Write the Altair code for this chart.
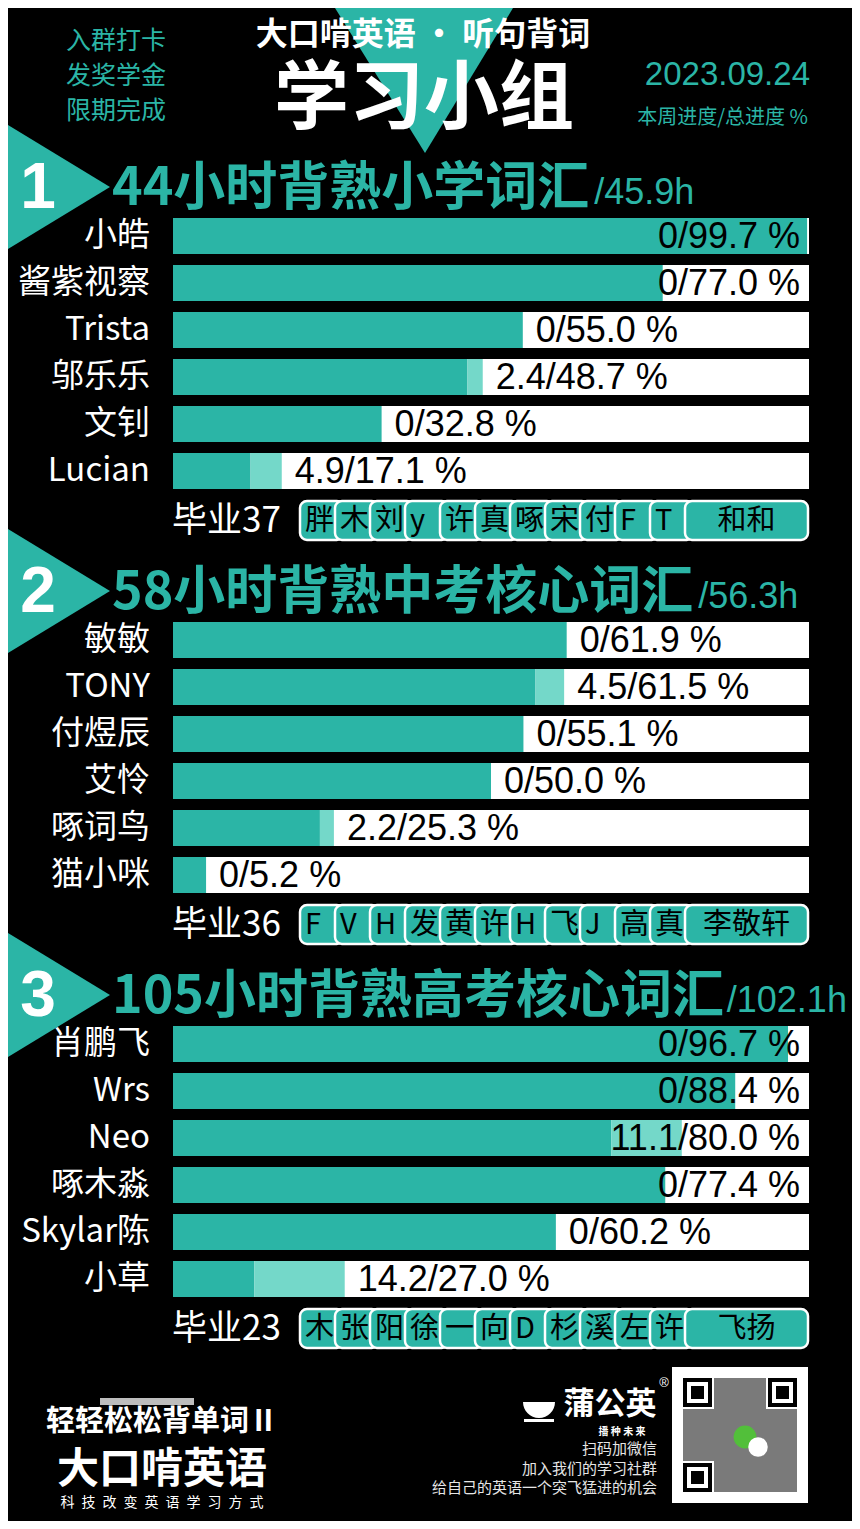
import altair as alt
import pandas as pd

# ---------------- data ----------------
left_notes = ["入群打卡", "发奖学金", "限期完成"]
brand_line = "大口啃英语 · 听句背词"
main_title = "学习小组"
date_text = "2023.09.24"
legend_text = "本周进度/总进度 %"

group_numbers = ["1", "2", "3"]
group_titles = ["44小时背熟小学词汇", "58小时背熟中考核心词汇", "105小时背熟高考核心词汇"]
group_hours = ["/45.9h", "/56.3h", "/102.1h"]

group_names = [
    ["小皓", "酱紫视察", "Trista", "邬乐乐", "文钊", "Lucian"],
    ["敏敏", "TONY", "付煜辰", "艾怜", "啄词鸟", "猫小咪"],
    ["肖鹏飞", "Wrs", "Neo", "啄木淼", "Skylar陈", "小草"],
]
weekly = [
    [0, 0, 0, 2.4, 0, 4.9],
    [0, 4.5, 0, 0, 2.2, 0],
    [0, 0, 11.1, 0, 0, 14.2],
]
total = [
    [99.7, 77.0, 55.0, 48.7, 32.8, 17.1],
    [61.9, 61.5, 55.1, 50.0, 25.3, 5.2],
    [96.7, 88.4, 80.0, 77.4, 60.2, 27.0],
]
graduated = [37, 36, 23]
grad_tiles = [
    ["胖", "木", "刘", "y", "许", "真", "啄", "宋", "付", "F", "T", "和和"],
    ["F", "V", "H", "发", "黄", "许", "H", "飞", "J", "高", "真", "李敬轩"],
    ["木", "张", "阳", "徐", "一", "向", "D", "杉", "溪", "左", "许", "飞扬"],
]

footer_slogan = "轻轻松松背单词Ⅱ"
footer_brand = "大口啃英语"
footer_motto = "科技改变英语学习方式"
footer_logo = "蒲公英"
footer_logo_sub = "播 种 未 来"
footer_lines = ["扫码加微信", "加入我们的学习社群", "给自己的英语一个突飞猛进的机会"]

# ---------------- style ----------------
W = 844
TEAL = "#2bb5a6"
LIGHT = "#74d8c9"
CJK = "Noto Sans CJK SC"
LAT = "Liberation Sans"

one = pd.DataFrame({"k": [0]})


def txt(s, x, y, size, color="white", font=CJK, weight="normal", align="center",
        baseline="middle"):
    return alt.Chart(one).mark_text(
        text=s, fontSize=size, font=font, fontWeight=weight, color=color,
        align=align, baseline=baseline,
    ).encode(x=alt.value(x), y=alt.value(y))


def shape(path, x, y, color, size=4):
    return alt.Chart(one).mark_point(
        shape=path, size=size, filled=True, color=color, opacity=1, strokeWidth=0
    ).encode(x=alt.value(x), y=alt.value(y))


def box(x, x2, y, y2, color, radius=0):
    return alt.Chart(one).mark_rect(color=color, cornerRadius=radius).encode(
        x=alt.value(x), x2=alt.value(x2), y=alt.value(y), y2=alt.value(y2)
    )


# ---------------- title panel ----------------
title_layers = [
    shape("M -90 0 L 88 0 L 0 145 Z", 417, 0, TEAL),
    txt(brand_line, 415, 27, 32, weight="bold"),
    txt(main_title, 416, 92, 75, weight="bold"),
    txt(date_text, 802, 67, 33, color=TEAL, font=LAT, align="right"),
    txt(legend_text, 800, 110, 20, color=TEAL, align="right"),
]
for i, s in enumerate(left_notes):
    title_layers.append(txt(s, 108, 33 + 35 * i, 25, color=TEAL))
title_panel = alt.layer(*title_layers).properties(width=W, height=120)


# ---------------- group panels ----------------
def text_width(s, size):
    w = 0.0
    for ch in s:
        w += size * (0.55 if ord(ch) < 128 else 1.0)
    return w


def group_panel(g):
    names = group_names[g]
    df = pd.DataFrame({"name": names, "weekly": weekly[g], "total": total[g]})
    df["prev"] = df["total"] - df["weekly"]
    df["full"] = 100.0
    df["label"] = [f"{w:g}/{t:.1f} %" for w, t in zip(df["weekly"], df["total"])]
    base = alt.Chart(df)

    xs = alt.Scale(domain=[0, 100], range=[165, 801])
    Y = alt.Y("name:N", axis=None,
              scale=alt.Scale(domain=names, range=[90, 361],
                              paddingInner=11 / 47, paddingOuter=0))

    track = base.mark_bar(color="white").encode(
        x=alt.X("full:Q", scale=xs, axis=None), y=Y)
    dark = base.mark_bar(color=TEAL).encode(
        x=alt.X("prev:Q", scale=xs, axis=None), y=Y)
    light = base.mark_bar(color=LIGHT).encode(
        x=alt.X("prev:Q", scale=xs, axis=None), x2="total:Q", y=Y)
    lab_left = base.transform_filter("datum.total < 70").mark_text(
        align="left", dx=13, dy=1, fontSize=36, font=LAT, color="black", baseline="middle"
    ).encode(x=alt.X("total:Q", scale=xs, axis=None), y=Y, text="label:N")
    lab_right = base.transform_filter("datum.total >= 70").mark_text(
        align="right", dy=1, fontSize=36, font=LAT, color="black", baseline="middle"
    ).encode(x=alt.value(792), y=Y, text="label:N")
    name_txt = base.mark_text(
        align="right", fontSize=33, font=CJK, color="white", baseline="middle"
    ).encode(x=alt.value(142), y=Y, text="name:N")

    tri = shape("M 0 -62 L 102 0 L 0 62 Z", 0, 59, TEAL)
    num = txt(group_numbers[g], 30, 80, 64, font=LAT, weight="bold",
              baseline="alphabetic")
    title = txt(group_titles[g], 104, 77, 52, color=TEAL, weight="bold",
                align="left", baseline="alphabetic")
    hx = 104 + text_width(group_titles[g], 52) + 9
    hours = txt(group_hours[g], hx, 76, 36, color=TEAL, font=LAT, align="left",
                baseline="alphabetic")

    grad = txt(f"毕业{graduated[g]}", 164, 393, 35, align="left")

    labels = grad_tiles[g]
    n = len(labels)
    tdf = pd.DataFrame({"ti": list(range(n)), "tl": labels})
    ts = alt.Scale(domain=[0, 14.514], range=[292, 800])
    tbase = alt.Chart(tdf).transform_calculate(
        te=f"datum.ti < {n - 1} ? datum.ti + 1.25 : 14.514"
    ).transform_calculate(mid="(datum.ti + datum.te) / 2")
    tiles = tbase.mark_rect(
        cornerRadius=7, fill=TEAL, stroke="white", strokeWidth=2.5
    ).encode(x=alt.X("ti:Q", scale=ts, axis=None), x2="te:Q",
             y=alt.value(373), y2=alt.value(412))
    tile_txt = tbase.transform_filter(f"datum.ti < {n - 1}").mark_text(
        align="left", dx=5, fontSize=29, font=CJK, color="black", baseline="middle"
    ).encode(x=alt.X("ti:Q", scale=ts, axis=None), y=alt.value(393), text="tl:N")
    tile_last = tbase.transform_filter(f"datum.ti == {n - 1}").mark_text(
        align="center", fontSize=29, font=CJK, color="black", baseline="middle"
    ).encode(x=alt.X("mid:Q", scale=ts, axis=None), y=alt.value(393), text="tl:N")

    return alt.layer(
        tri, num, title, hours,
        track, dark, light, lab_left, lab_right, name_txt,
        grad, tiles, tile_txt, tile_last,
    ).resolve_scale(x="independent").properties(width=W, height=404)


# ---------------- footer panel ----------------
motto_spaced = "\u2002".join(footer_motto)
footer_layers = [
    box(92, 186, 58, 65, "#bdbdbd"),
    txt(footer_slogan, 154, 82, 29, weight="bold"),
    txt(footer_brand, 154, 130, 42, weight="bold"),
    txt(motto_spaced, 154, 163, 14),
    shape("M -16 -4 A 16 16 0 0 0 16 -4 Z", 531, 66, "white"),
    box(516, 546, 79, 82, "white"),
    txt(footer_logo, 602, 65, 31, weight="bold"),
    txt("®", 656, 43, 13, font=LAT),
    txt(footer_logo_sub, 614, 92, 10, weight="bold"),
    box(664, 800, 27, 163, "white"),
    box(675, 789, 38, 152, "#7a7a7a"),
]
for fx, fy in [(675, 38), (760, 38), (675, 123)]:
    footer_layers += [
        box(fx - 2, fx + 31, fy - 2, fy + 31, "white"),
        box(fx, fx + 29, fy, fy + 29, "black"),
        box(fx + 4, fx + 25, fy + 4, fy + 25, "white"),
        box(fx + 8, fx + 21, fy + 8, fy + 21, "black"),
    ]
footer_layers += [
    shape("circle", 737, 97, "#52bf3a", size=520),
    shape("circle", 750, 107, "white", size=380),
]
for i, s in enumerate(footer_lines):
    footer_layers.append(txt(s, 649, 109 + 19.5 * i, 15, color="#e6e6e6", align="right"))
footer_panel = alt.layer(*footer_layers).properties(width=W, height=181)

chart = alt.vconcat(
    title_panel, group_panel(0), group_panel(1), group_panel(2), footer_panel,
    spacing=0, bounds="flush",
).properties(padding=0, background="black").configure_view(strokeWidth=0)

chart.save("out.html", embed_options={"renderer": "svg", "actions": False})
